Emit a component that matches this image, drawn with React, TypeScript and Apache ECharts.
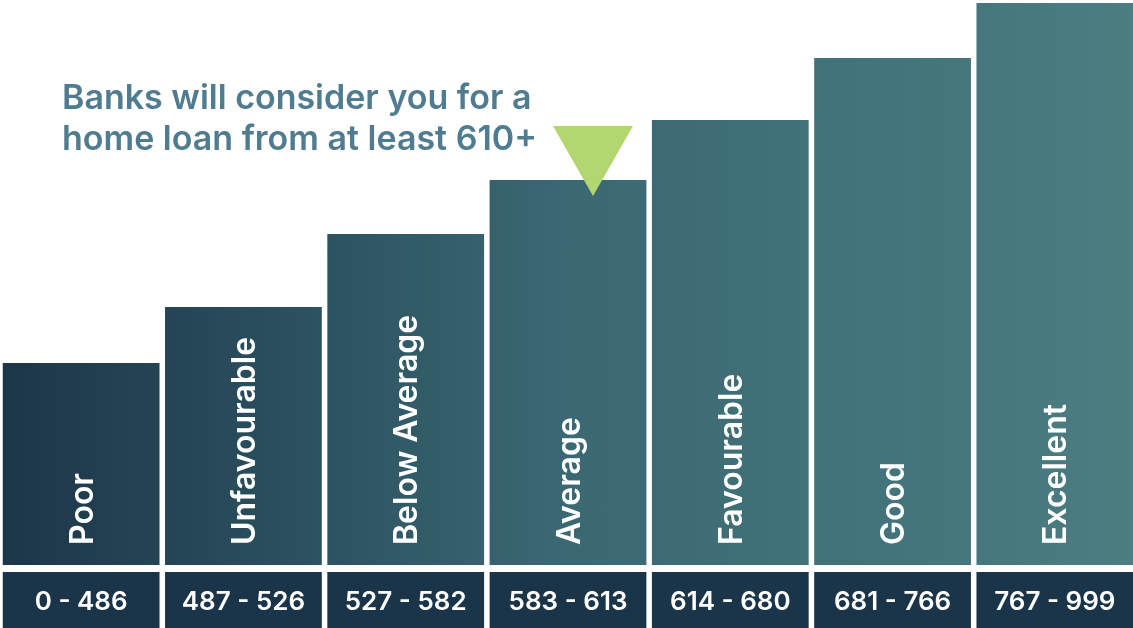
import React, { useEffect, useRef } from "react";
import * as echarts from "echarts";

const categories = ["Poor", "Unfavourable", "Below Average", "Average", "Favourable", "Good", "Excellent"];
const barHeights = [202, 258, 331, 385, 445, 507, 562];
const scoreRanges = ["0 - 486", "487 - 526", "527 - 582", "583 - 613", "614 - 680", "681 - 766", "767 - 999"];
const annotationLines = ["Banks will consider you for a", "home loan from at least 610+"];

export default function App() {
  const ref = useRef<HTMLDivElement>(null);
  useEffect(() => {
    document.body.style.margin = "0";
    document.body.style.overflow = "hidden";
    document.documentElement.style.overflow = "hidden";
    const chart = echarts.init(ref.current!, null, { renderer: "svg" });
    const grad = new echarts.graphic.LinearGradient(
      0, 0, 1133, 0,
      [
        { offset: 0, color: "#1c3649" },
        { offset: 0.5, color: "#3a6873" },
        { offset: 1, color: "#4b7d81" },
      ],
      true
    );
    const font = "Inter, 'Open Sans', sans-serif";
    chart.setOption({
      animation: false,
      grid: [
        { left: 0, right: 0, top: 0, height: 565 },
        { left: 0, right: 0, top: 572, height: 56 },
      ],
      xAxis: [
        { type: "category", gridIndex: 0, data: categories, show: false },
        { type: "category", gridIndex: 1, data: scoreRanges, show: false },
      ],
      yAxis: [
        { type: "value", gridIndex: 0, min: 0, max: 565, show: false },
        { type: "value", gridIndex: 1, min: 0, max: 1, show: false },
      ],
      series: [
        {
          type: "bar",
          xAxisIndex: 0,
          yAxisIndex: 0,
          data: barHeights,
          barCategoryGap: "3.4%",
          itemStyle: { color: grad },
          label: {
            show: true,
            position: "insideBottom",
            rotate: 90,
            align: "left",
            verticalAlign: "middle",
            distance: 20,
            formatter: (p: any) => categories[p.dataIndex],
            color: "#ffffff",
            fontFamily: font,
            fontWeight: 600,
            fontSize: 32,
          },
        },
        {
          type: "bar",
          xAxisIndex: 1,
          yAxisIndex: 1,
          data: scoreRanges.map(() => 1),
          barCategoryGap: "3.4%",
          itemStyle: { color: "#1a354a" },
          label: {
            show: true,
            position: "inside",
            formatter: (p: any) => scoreRanges[p.dataIndex],
            color: "#ffffff",
            fontFamily: font,
            fontWeight: 600,
            fontSize: 26,
          },
        },
      ],
      graphic: [
        {
          type: "text",
          left: 62,
          top: 76,
          style: {
            text: annotationLines.join("\n"),
            fill: "#4f7c90",
            font: `600 34px ${font}`,
            lineHeight: 41,
          },
        },
        {
          type: "polygon",
          shape: { points: [[553, 126], [633, 126], [593, 196]] },
          style: { fill: "#b2d670" },
          z: 10,
        },
      ],
    });
    return () => chart.dispose();
  }, []);
  return <div ref={ref} style={{ position: "fixed", left: 0, top: 0, width: 1136, height: 628 }} />;
}
